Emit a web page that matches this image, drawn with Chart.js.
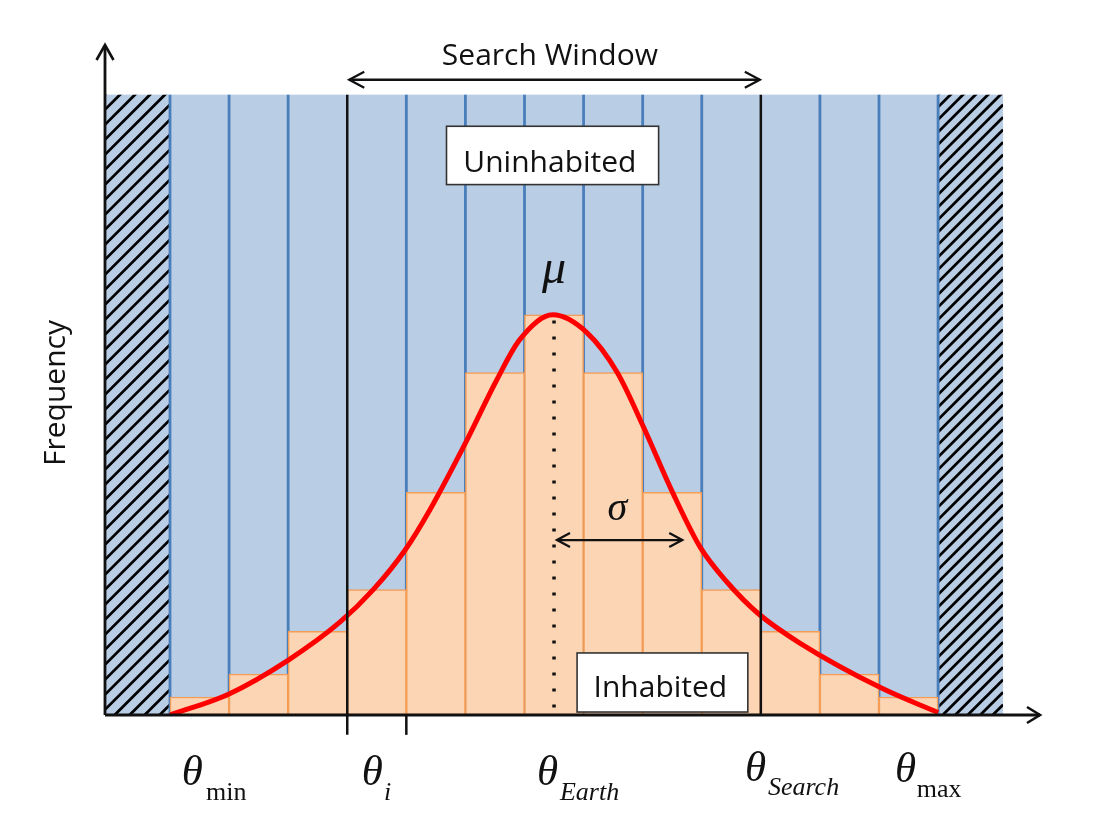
<!DOCTYPE html>
<html><head><meta charset="utf-8">
<script src="https://cdn.jsdelivr.net/npm/chart.js@4.4.0/dist/chart.umd.min.js"></script>
<style>html,body{margin:0;padding:0;background:#fff}</style>
</head><body>
<canvas id="c" width="1094" height="840" style="width:1094px;height:840px;display:block"></canvas>
<script>
// ---- data (x in bin units, y in frequency units; blue region top = 100) ----
const binCenters  = [0.5, 1.5, 2.5, 3.5, 4.5, 5.5, 6.5, 7.5, 8.5, 9.5, 10.5, 11.5, 12.5];
const frequencies = [2.9, 6.6, 13.5, 20.2, 35.9, 55.2, 64.5, 55.2, 35.9, 20.2, 13.5, 6.6, 2.9];
const binEdges    = [0, 1, 2, 3, 4, 5, 6, 7, 8, 9, 10, 11, 12, 13];
const curveX = [0, 1.0, 2.01, 2.88, 3.44, 3.98, 4.40, 5.03, 5.53, 5.92, 6.48, 7.06, 7.57, 8.01, 8.51, 8.97, 9.43, 9.95, 10.66, 12.05, 13.0];
const curveY = [0, 3.4, 8.9, 15.0, 20.2, 26.6, 33.1, 44.4, 54.0, 60.5, 64.5, 61.6, 55.2, 46.5, 35.8, 27.1, 21.4, 16.4, 11.6, 4.3, 0.4];
const searchWindow = [3, 10];
const thetaI = 4;
const muValue = 6.5;
const sigmaSpan = [6.55, 8.67];
const excludedLeft = [-1.1, 0];
const excludedRight = [13, 14.1];
const regionTop = 100;

const X_MIN = -1.1, X_MAX = 14.725, Y_MAX = 108;

function hatch(ctx, x0, y0, x1, y1, step) {
  ctx.save();
  ctx.beginPath(); ctx.rect(x0, y0, x1 - x0, y1 - y0); ctx.clip();
  ctx.strokeStyle = '#000'; ctx.lineWidth = 2.8;
  const w = x1 - x0;
  for (let c = y0; c <= y1 + w + step; c += step) {
    ctx.beginPath(); ctx.moveTo(x0, c); ctx.lineTo(x1, c - w); ctx.stroke();
  }
  ctx.restore();
}
function head(ctx, tx, ty, dx, dy, len, half) {
  const bx = tx - dx * len, by = ty - dy * len;
  const nx = -dy, ny = dx;
  ctx.beginPath();
  ctx.moveTo(bx + nx * half, by + ny * half);
  ctx.lineTo(tx, ty);
  ctx.lineTo(bx - nx * half, by - ny * half);
  ctx.stroke();
}
function subLabel(ctx, px, py, main, sub, subItalic, xm, ym, xs, ys) {
  ctx.textAlign = 'left'; ctx.textBaseline = 'alphabetic';
  ctx.font = 'italic 43px "Liberation Serif"';
  ctx.fillText(main, px(xm), py(ym));
  ctx.font = (subItalic ? 'italic ' : '') + '26px "Liberation Serif"';
  ctx.fillText(sub, px(xs), py(ys));
}

const diagram = {
  id: 'diagram',
  beforeDatasetsDraw(chart) {
    const { ctx, scales: { x, y } } = chart;
    const px = v => x.getPixelForValue(v), py = v => y.getPixelForValue(v);
    ctx.save();
    ctx.fillStyle = '#B9CDE5';
    ctx.fillRect(px(excludedLeft[0]), py(regionTop), px(excludedRight[1]) - px(excludedLeft[0]), py(0) - py(regionTop));
    hatch(ctx, px(excludedLeft[0]), py(regionTop), px(excludedLeft[1]), py(0), 15);
    hatch(ctx, px(excludedRight[0]), py(regionTop), px(excludedRight[1]), py(0), 12.5);
    ctx.strokeStyle = '#4A7EBB'; ctx.lineWidth = 2.8;
    binEdges.forEach(e => {
      if (searchWindow.includes(e)) return;
      ctx.beginPath(); ctx.moveTo(px(e), py(regionTop)); ctx.lineTo(px(e), py(0)); ctx.stroke();
    });
    ctx.restore();
  },
  afterDatasetsDraw(chart) {
    const { ctx, scales: { x, y } } = chart;
    const px = v => x.getPixelForValue(v), py = v => y.getPixelForValue(v);
    ctx.save();
    ctx.strokeStyle = '#111'; ctx.fillStyle = '#111'; ctx.lineCap = 'butt';
    ctx.lineWidth = 2.5;
    ctx.beginPath(); ctx.moveTo(px(searchWindow[0]), py(regionTop)); ctx.lineTo(px(searchWindow[0]), py(-3.2)); ctx.stroke();
    ctx.beginPath(); ctx.moveTo(px(searchWindow[1]), py(regionTop)); ctx.lineTo(px(searchWindow[1]), py(0)); ctx.stroke();
    ctx.beginPath(); ctx.moveTo(px(thetaI), py(0)); ctx.lineTo(px(thetaI), py(-3.2)); ctx.stroke();
    ctx.lineWidth = 2.8;
    ctx.beginPath(); ctx.moveTo(px(X_MIN), py(0)); ctx.lineTo(px(X_MIN), py(Y_MAX)); ctx.stroke();
    ctx.beginPath(); ctx.moveTo(px(X_MIN), py(0)); ctx.lineTo(px(X_MAX), py(0)); ctx.stroke();
    ctx.lineWidth = 2.6; ctx.lineJoin = 'miter';
    head(ctx, px(X_MIN), py(Y_MAX), 0, -1, 15, 8.5);
    head(ctx, px(X_MAX), py(0), 1, 0, 13, 8);
    ctx.save();
    ctx.lineWidth = 3.5; ctx.setLineDash([3, 13]);
    ctx.beginPath(); ctx.moveTo(px(muValue), py(63.6)); ctx.lineTo(px(muValue), py(0)); ctx.stroke();
    ctx.restore();
    ctx.lineWidth = 2.3;
    const ya = py(102.4);
    ctx.beginPath(); ctx.moveTo(px(searchWindow[0]) + 2, ya); ctx.lineTo(px(searchWindow[1]) - 1, ya); ctx.stroke();
    head(ctx, px(searchWindow[0]) + 2, ya, -1, 0, 15, 8);
    head(ctx, px(searchWindow[1]) - 1, ya, 1, 0, 15, 8);
    const ys = py(28.2);
    ctx.beginPath(); ctx.moveTo(px(sigmaSpan[0]), ys); ctx.lineTo(px(sigmaSpan[1]), ys); ctx.stroke();
    head(ctx, px(sigmaSpan[0]), ys, -1, 0, 13, 7);
    head(ctx, px(sigmaSpan[1]), ys, 1, 0, 13, 7);
    ctx.lineWidth = 1.6; ctx.strokeStyle = '#333'; ctx.fillStyle = '#fff';
    const box = (a, b, c, d) => { ctx.fillRect(px(a), py(c), px(b) - px(a), py(d) - py(c)); ctx.strokeRect(px(a), py(c), px(b) - px(a), py(d) - py(c)); };
    box(4.68, 8.27, 94.9, 85.5);
    box(6.89, 9.78, 10.0, 0.48);
    ctx.fillStyle = '#111';
    ctx.font = '30px "Open Sans"'; ctx.textAlign = 'center'; ctx.textBaseline = 'alphabetic';
    ctx.fillText('Search Window', px(6.43), py(104.7));
    ctx.fillText('Uninhabited', px(6.43), py(87.6));
    ctx.fillText('Inhabited', px(8.30), py(2.95));
    ctx.save();
    ctx.translate(px(-1.777), py(51.9)); ctx.rotate(-Math.PI / 2);
    ctx.fillText('Frequency', 0, 0);
    ctx.restore();
    ctx.font = 'italic 48px "Liberation Serif"';
    ctx.fillText('\u03BC', px(6.5), py(69.7));
    ctx.font = 'italic 40px "Liberation Serif"';
    ctx.fillText('\u03C3', px(7.57), py(31.5));
    subLabel(ctx, px, py, '\u03B8', 'min', false, 0.2, -11.3, 0.61, -13.7);
    subLabel(ctx, px, py, '\u03B8', 'i', true, 3.245, -11.3, 3.62, -13.7);
    subLabel(ctx, px, py, '\u03B8', 'Earth', true, 6.21, -11.3, 6.6, -13.7);
    subLabel(ctx, px, py, '\u03B8', 'Search', true, 9.73, -10.6, 10.12, -12.9);
    subLabel(ctx, px, py, '\u03B8', 'max', false, 12.27, -10.8, 12.64, -13.2);
    ctx.restore();
  }
};

new Chart(document.getElementById('c'), {
  type: 'bar',
  data: {
    datasets: [
      {
        type: 'line',
        label: 'curve',
        data: curveX.map((v, i) => ({ x: v, y: curveY[i] })),
        borderColor: '#FF0000',
        borderWidth: 5,
        pointRadius: 0,
        fill: false,
        cubicInterpolationMode: 'monotone',
        order: 0
      },
      {
        type: 'bar',
        label: 'frequency',
        data: binCenters.map((v, i) => ({ x: v, y: frequencies[i] })),
        backgroundColor: '#FCD5B5',
        borderColor: '#F59D55',
        borderWidth: 1.5,
        borderSkipped: false,
        barPercentage: 1,
        categoryPercentage: 1,
        order: 1
      }
    ]
  },
  options: {
    responsive: false,
    animation: false,
    devicePixelRatio: 1,
    layout: { padding: { left: 105, right: 54, top: 45, bottom: 125 } },
    plugins: { legend: { display: false }, tooltip: { enabled: false } },
    scales: {
      x: { type: 'linear', min: X_MIN, max: X_MAX, offset: false, display: false },
      y: { type: 'linear', min: 0, max: Y_MAX, display: false }
    }
  },
  plugins: [diagram]
});
</script>
</body></html>
